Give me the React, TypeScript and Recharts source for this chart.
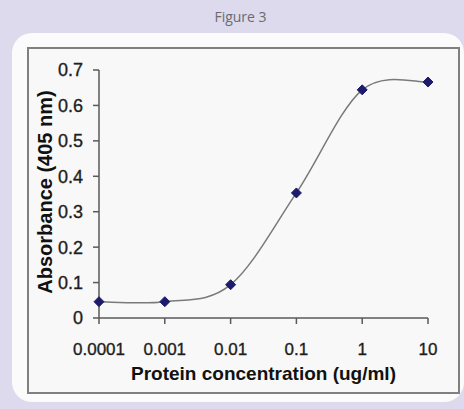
import React from 'react';
import { Line, LineChart, XAxis, YAxis, Label } from 'recharts';

// protein concentration (ug/ml) vs absorbance at 405 nm
const concentrations = [0.0001, 0.001, 0.01, 0.1, 1, 10];
const absorbance = [0.046, 0.046, 0.094, 0.353, 0.644, 0.666];

const xTicks = [0.0001, 0.001, 0.01, 0.1, 1, 10];
const xTickLabels = ['0.0001', '0.001', '0.01', '0.1', '1', '10'];
const yTicks = [0, 0.1, 0.2, 0.3, 0.4, 0.5, 0.6, 0.7];
const yTickLabels = ['0', '0.1', '0.2', '0.3', '0.4', '0.5', '0.6', '0.7'];

const chartData = concentrations.map((c, i) => ({ conc: c, abs: absorbance[i] }));

const FONT = '"Liberation Sans", Arial, sans-serif';
const AXIS_COLOR = '#5a5a5a';

// Excel style smoothed line (bezier with 1/6 tangents)
function excelSmooth(context: any) {
  let pts: number[][] = [];
  return {
    areaStart() {},
    areaEnd() {},
    lineStart() {
      pts = [];
    },
    point(x: number, y: number) {
      pts.push([+x, +y]);
    },
    lineEnd() {
      if (!pts.length) return;
      context.moveTo(pts[0][0], pts[0][1]);
      for (let i = 0; i < pts.length - 1; i++) {
        const p0 = pts[i - 1] || pts[i];
        const p1 = pts[i];
        const p2 = pts[i + 1];
        const p3 = pts[i + 2] || p2;
        context.bezierCurveTo(
          p1[0] + (p2[0] - p0[0]) / 6,
          p1[1] + (p2[1] - p0[1]) / 6,
          p2[0] - (p3[0] - p1[0]) / 6,
          p2[1] - (p3[1] - p1[1]) / 6,
          p2[0],
          p2[1],
        );
      }
    },
  };
}

function Diamond(props: any) {
  const { cx, cy, index } = props;
  const r = 5;
  return (
    <path
      key={`d-${index}`}
      d={`M${cx},${cy - r}L${cx + r},${cy}L${cx},${cy + r}L${cx - r},${cy}Z`}
      fill="#1d1b6b"
      stroke="#1d1b6b"
    />
  );
}

const tickStyle = {
  fill: '#1e1e1e',
  stroke: '#1e1e1e',
  strokeWidth: 0.35,
  fontFamily: FONT,
};

export default function App() {
  return (
    <div
      style={{
        position: 'fixed',
        left: 0,
        top: 0,
        width: 464,
        height: 409,
        background: '#dcdaec',
        overflow: 'hidden',
      }}
    >
      <div
        style={{
          position: 'absolute',
          left: 0,
          top: 7,
          width: 481,
          textAlign: 'center',
          fontFamily: '"Open Sans", sans-serif',
          fontSize: 14,
          color: '#6a6a72',
        }}
      >
        Figure 3
      </div>
      <div
        style={{
          position: 'absolute',
          left: 12,
          top: 33,
          width: 452,
          height: 369,
          background: '#fbfbfb',
          borderRadius: 20,
        }}
      />
      <div
        style={{
          position: 'absolute',
          left: 27,
          top: 47,
          width: 433,
          height: 347,
          boxSizing: 'border-box',
          border: '2px solid #808080',
          background: '#f8f8f8',
        }}
      />
      <div style={{ position: 'absolute', left: 0, top: 0 }}>
        <LineChart
          width={464}
          height={409}
          data={chartData}
          margin={{ top: 70, right: 36, left: 29, bottom: 31 }}
        >
          <XAxis
            dataKey="conc"
            type="number"
            scale="log"
            domain={[0.0001, 10]}
            ticks={xTicks}
            tickFormatter={(v: number) => xTickLabels[xTicks.indexOf(v)] ?? String(v)}
            height={60}
            tickSize={6}
            tickMargin={19}
            stroke={AXIS_COLOR}
            strokeWidth={1.5}
            tick={{ ...tickStyle, fontSize: 17 }}
            interval={0}
          >
            <Label
              content={(props: any) => {
                const vb = props.viewBox;
                return (
                  <text
                    x={vb.x + vb.width / 2}
                    y={vb.y + 62}
                    textAnchor="middle"
                    fontFamily={FONT}
                    fontWeight="bold"
                    fontSize={19}
                    fill="#111"
                  >
                    Protein concentration (ug/ml)
                  </text>
                );
              }}
            />
          </XAxis>
          <YAxis
            type="number"
            domain={[0, 0.7]}
            ticks={yTicks}
            tickFormatter={(v: number) => yTickLabels[yTicks.indexOf(v)] ?? String(v)}
            width={70}
            tickSize={6}
            tickMargin={10}
            stroke={AXIS_COLOR}
            strokeWidth={1.5}
            tick={{ ...tickStyle, fontSize: 18 }}
            interval={0}
          >
            <Label
              content={(props: any) => {
                const vb = props.viewBox;
                const x = vb.x + 23;
                const y = vb.y + vb.height / 2 - 2;
                return (
                  <text
                    x={x}
                    y={y}
                    transform={`rotate(-90 ${x} ${y})`}
                    textAnchor="middle"
                    fontFamily={FONT}
                    fontWeight="bold"
                    fontSize={20}
                    fill="#111"
                  >
                    Absorbance (405 nm)
                  </text>
                );
              }}
            />
          </YAxis>
          <Line
            dataKey="abs"
            type={excelSmooth as any}
            stroke="#7a7a7a"
            strokeWidth={1.5}
            dot={Diamond}
            activeDot={false}
            isAnimationActive={false}
          />
        </LineChart>
      </div>
    </div>
  );
}
